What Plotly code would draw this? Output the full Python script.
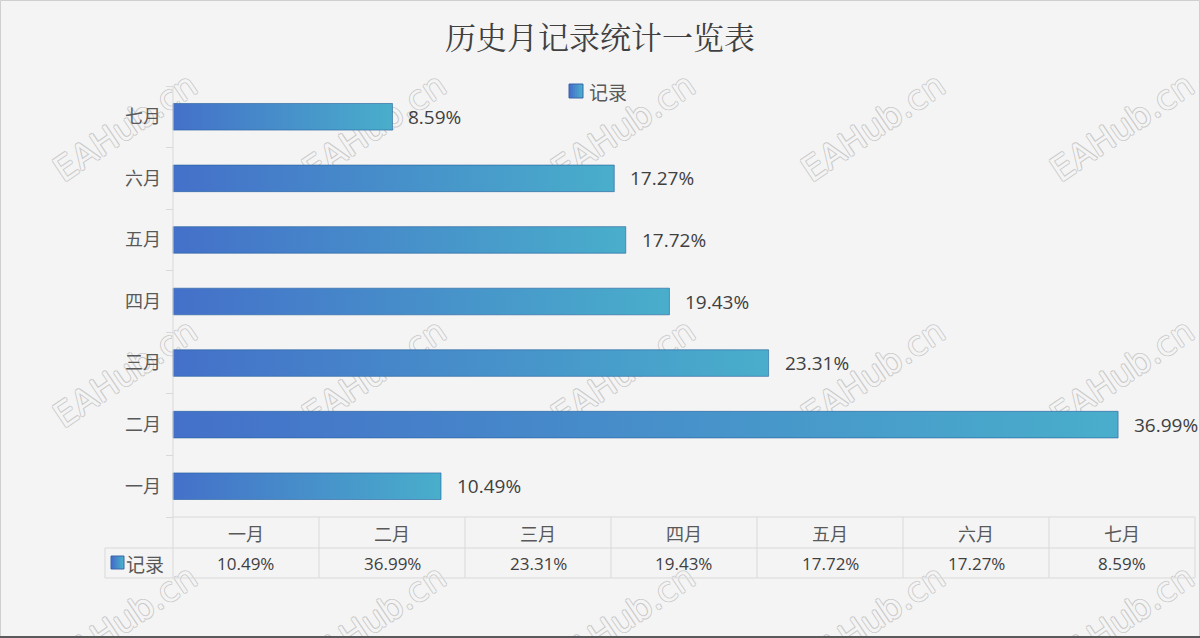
import plotly.graph_objects as go

# ---------------- data ----------------
months = ["一月", "二月", "三月", "四月", "五月", "六月", "七月"]
values = [10.49, 36.99, 23.31, 19.43, 17.72, 17.27, 8.59]
series_name = "记录"
title_text = "历史月记录统计一览表"
watermark_text = "EAHub.cn"

# ---------------- geometry (pixel layout of the chart) ----------------
W, H = 1200, 638
AX_L, AX_R, AX_T, AX_B = 173, 1195, 86, 517   # value-axis box in pixels
XMAX = 40
YLO, YHI = -0.5, len(months) - 0.5


def dx(p):   # pixel x -> data x
    return (p - AX_L) / (AX_R - AX_L) * XMAX


def dy(p):   # pixel y -> data y
    return YLO + (AX_B - p) / (AX_B - AX_T) * (YHI - YLO)


def px(p):   # pixel x -> paper
    return p / W


def py(p):   # pixel y -> paper
    return 1 - p / H


BG = "#f4f4f4"
GRID = "#d9d9d9"
C0, C1 = "#4470c9", "#49aecb"
TXT = "#404040"
TICK = "#595959"
NUMFONT = "Open Sans, Noto Sans CJK SC, sans-serif"
CJK = "Noto Sans CJK SC, sans-serif"

fig = go.Figure()

# watermarks (drawn first, so they sit below the bars)
wm_x = [125, 374, 623, 873, 1122]
wm_y = [127, 373, 619]
sh = "#c9c9c9"
shadow = f"1px 0 {sh}, -1px 0 {sh}, 0 1px {sh}, 0 -1px {sh}"
wx, wy, wb = [], [], []
for yy in wm_y:
    for xx in wm_x:
        wx.append(0.02)
        wb.append(dx(xx) - 0.01)
        wy.append(dy(yy))
fig.add_trace(go.Bar(
    x=wx, y=wy, base=wb, orientation="h", width=0.01,
    marker=dict(color="rgba(0,0,0,0)", line=dict(width=0)),
    text=[watermark_text] * len(wx), textposition="inside",
    insidetextanchor="middle", constraintext="none", textangle=-34,
    textfont=dict(size=34, color=BG, family="DejaVu Sans", shadow=shadow),
    cliponaxis=False, showlegend=False, hoverinfo="skip",
))

annots = []
shapes = []
half = 0.216
for i, (m, v) in enumerate(zip(months, values)):
    fig.add_trace(go.Scatter(
        x=[0, v, v, 0, 0],
        y=[i - half, i - half, i + half, i + half, i - half],
        mode="lines",
        fill="toself",
        fillgradient=dict(type="horizontal", colorscale=[[0, C0], [1, C1]]),
        line=dict(color="rgba(35,95,155,0.6)", width=1),
        name=series_name,
        showlegend=False,
        hoverinfo="skip",
    ))
    annots.append(dict(
        x=v, y=i, xref="x", yref="y", text=f"{v:.2f}%",
        showarrow=False, xanchor="left", yanchor="middle", xshift=14,
        font=dict(size=19, color=TXT, family=NUMFONT),
    ))

# category axis line
shapes.append(dict(type="line", xref="x", yref="y", x0=0, x1=0, y0=YLO, y1=YHI,
                   line=dict(color=GRID, width=1)))

# frame
shapes.append(dict(type="rect", xref="paper", yref="paper",
                   x0=px(0.5), x1=px(W - 0.5), y0=py(H - 0.5), y1=py(0.5),
                   line=dict(color="#cfcfcf", width=1), layer="above"))
shapes.append(dict(type="line", xref="paper", yref="paper",
                   x0=0, x1=1, y0=py(H - 1), y1=py(H - 1),
                   line=dict(color="#5a5a5a", width=2)))

# data table
row_top, row_mid, row_bot = 517, 548, 578
ncol = len(months)
colw = (AX_R - AX_L) / ncol
line = dict(color=GRID, width=1)
shapes.append(dict(type="line", xref="paper", yref="paper", x0=px(AX_L), x1=px(AX_R),
                   y0=py(row_top), y1=py(row_top), line=line))
for yy in (row_mid, row_bot):
    shapes.append(dict(type="line", xref="paper", yref="paper", x0=px(105), x1=px(AX_R),
                       y0=py(yy), y1=py(yy), line=line))
shapes.append(dict(type="line", xref="paper", yref="paper", x0=px(105), x1=px(105),
                   y0=py(row_mid), y1=py(row_bot), line=line))
for k in range(ncol + 1):
    xx = px(AX_L + k * colw)
    shapes.append(dict(type="line", xref="paper", yref="paper", x0=xx, x1=xx,
                       y0=py(row_top), y1=py(row_bot), line=line))
for k, (m, v) in enumerate(zip(months, values)):
    xc = px(AX_L + (k + 0.5) * colw)
    annots.append(dict(x=xc, y=py((row_top + row_mid) / 2), xref="paper", yref="paper",
                       text=m, showarrow=False, xanchor="center", yanchor="middle",
                       font=dict(size=18, color=TICK, family=CJK)))
    annots.append(dict(x=xc, y=py((row_mid + row_bot) / 2), xref="paper", yref="paper",
                       text=f"{v:.2f}%", showarrow=False, xanchor="center", yanchor="middle",
                       font=dict(size=17, color=TXT, family=NUMFONT)))


def mix(t):
    a = tuple(int(C0[i:i + 2], 16) for i in (1, 3, 5))
    b = tuple(int(C1[i:i + 2], 16) for i in (1, 3, 5))
    return "rgb(%d,%d,%d)" % tuple(round(a[j] + (b[j] - a[j]) * t) for j in range(3))


def swatch(x0, y0, size):
    n = 7
    for s in range(n):
        shapes.append(dict(type="rect", xref="paper", yref="paper",
                           x0=px(x0 + size * s / n), x1=px(min(x0 + size * (s + 1) / n + 0.8, x0 + size)),
                           y0=py(y0 + size), y1=py(y0), fillcolor=mix(s / (n - 1)),
                           line=dict(width=0)))
    shapes.append(dict(type="rect", xref="paper", yref="paper",
                       x0=px(x0), x1=px(x0 + size), y0=py(y0 + size), y1=py(y0),
                       line=dict(color="#3a64a8", width=1)))


swatch(111, 556, 13)
annots.append(dict(x=px(124), y=py(563), xref="paper", yref="paper", text=series_name,
                   showarrow=False, xanchor="left", yanchor="middle",
                   font=dict(size=19, color=TICK, family=CJK)))

# top legend
swatch(569, 84, 14)
annots.append(dict(x=px(587), y=py(91), xref="paper", yref="paper", text=series_name,
                   showarrow=False, xanchor="left", yanchor="middle",
                   font=dict(size=19, color=TICK, family=CJK)))

fig.update_layout(
    width=W, height=H,
    margin=dict(l=0, r=0, t=0, b=0, pad=0),
    paper_bgcolor=BG, plot_bgcolor=BG,
    showlegend=False,
    title=dict(text=title_text, x=0.5, xanchor="center", y=1 - 38 / H, yanchor="middle",
               yref="container",
               font=dict(size=31, color=TXT, family="Noto Serif CJK SC, Noto Serif SC, Noto Sans CJK SC, serif")),
    xaxis=dict(range=[dx(0), dx(W)], domain=[0, 1], visible=False, fixedrange=True),
    yaxis=dict(range=[dy(H), dy(0)], domain=[0, 1], anchor="free", position=px(AX_L),
               tickmode="array",
               tickvals=list(range(len(months))), ticktext=months,
               showline=False, showgrid=False, zeroline=False,
               ticks="", ticklabelstandoff=12,
               minor=dict(tickmode="array", tickvals=[k - 0.5 for k in range(len(months) + 1)],
                          ticks="outside", ticklen=7, tickcolor=GRID, showgrid=False),
               tickfont=dict(size=18, color=TICK, family=CJK), fixedrange=True),
    shapes=shapes,
    annotations=annots,
)

fig.write_html("out.html")
